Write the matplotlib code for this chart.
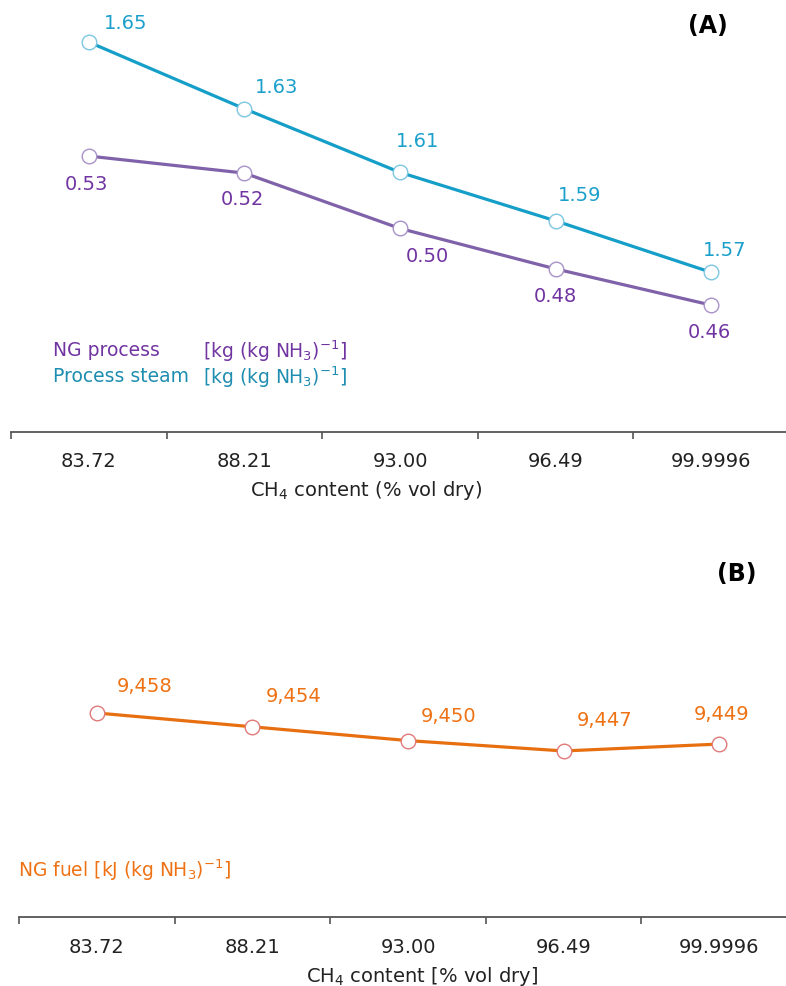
import matplotlib
matplotlib.use('Agg')
import matplotlib.pyplot as plt

plt.rcParams['font.family'] = 'DejaVu Sans'
plt.rcParams['mathtext.default'] = 'regular'

#%% data
ch4_labels = ['83.72', '88.21', '93.00', '96.49', '99.9996']
ng_process = [0.530, 0.522, 0.496, 0.477, 0.460]      # kg (kg NH3)^-1
process_steam = [1.649, 1.627, 1.606, 1.590, 1.573]   # kg (kg NH3)^-1
ng_fuel = [9458, 9454, 9450, 9447, 9449]              # kJ (kg NH3)^-1

c_steam, c_steam_txt, c_steam_mk = '#159fc8', '#1ba0cc', '#7cc6e2'
c_ng, c_ng_txt, c_ng_mk = '#7f62a9', '#7135a2', '#a892c8'
c_fuel, c_fuel_txt, c_fuel_mk = '#e86f10', '#ee7214', '#e07a7a'

W, H = 786, 986
fig = plt.figure(figsize=(W / 100, H / 100), dpi=100)


def px_axes(left, top, right, bottom):
    # axes placed in pixel coords of the picture
    return fig.add_axes([left / W, 1 - bottom / H, (right - left) / W, (bottom - top) / H])


def fig_text(x, y, s, **kw):
    fig.text(x / W, 1 - y / H, s, **kw)


def style_x(ax, pad):
    x = range(len(ch4_labels))
    ax.set_xlim(-0.5, 4.5)
    for s in ['top', 'right', 'left']:
        ax.spines[s].set_visible(False)
    ax.spines['bottom'].set_color('#555555')
    ax.spines['bottom'].set_linewidth(1.3)
    ax.set_yticks([])
    ax.set_xticks([-0.5, 0.5, 1.5, 2.5, 3.5])
    ax.set_xticklabels([])
    ax.tick_params(axis='x', which='major', length=5, width=1.2, color='#555555', direction='out')
    ax.set_xticks(list(x), ch4_labels, minor=True)
    ax.tick_params(axis='x', which='minor', length=0, pad=pad, labelsize=14, labelcolor='#222222')
    ax.patch.set_visible(False)


x = list(range(len(ch4_labels)))

#%% Panel A
axA = px_axes(11, 0, 789, 432)
style_x(axA, 14.5)
axA.set_ylim(0.4004, 0.6033)
axA.plot(x, ng_process, color=c_ng, lw=2.3, marker='o', ms=10.5,
         mfc='white', mec=c_ng_mk, mew=1.0, zorder=3)
ng_off = [(-2, -28), (-2, -26), (27, -28), (0, -28), (-2, -27)]
for xi, v, o in zip(x, ng_process, ng_off):
    axA.annotate(f'{v:.2f}', (xi, v), xytext=o, textcoords='offset pixels',
                 ha='center', va='center', fontsize=14, color=c_ng_txt)

axA2 = axA.twinx()
for s in ['top', 'right', 'left', 'bottom']:
    axA2.spines[s].set_visible(False)
axA2.set_yticks([])
axA2.set_ylim(1.5203, 1.6629)
axA2.plot(x, process_steam, color=c_steam, lw=2.3, marker='o', ms=10.5,
          mfc='white', mec=c_steam_mk, mew=1.0, zorder=3)
st_off = [(37, 19), (32, 21), (18, 31), (24, 25), (13, 22)]
for xi, v, o in zip(x, process_steam, st_off):
    axA2.annotate(f'{v:.2f}', (xi, v), xytext=o, textcoords='offset pixels',
                  ha='center', va='center', fontsize=14, color=c_steam_txt)

fig_text(708, 26, '(A)', ha='center', va='center', fontsize=17, fontweight='bold')
fig_text(53, 351, 'NG process', ha='left', va='center', fontsize=13.5, color=c_ng_txt)
fig_text(203, 351, '[kg (kg NH$_3$)$^{-1}$]', ha='left', va='center', fontsize=13.5, color=c_ng_txt)
fig_text(53, 377, 'Process steam', ha='left', va='center', fontsize=13.5, color='#1e8db0')
fig_text(203, 377, '[kg (kg NH$_3$)$^{-1}$]', ha='left', va='center', fontsize=13.5, color='#1e8db0')
fig_text(366, 491, 'CH$_4$ content (% vol dry)', ha='center', va='center', fontsize=14, color='#222222')

#%% Panel B
axB = px_axes(19, 500, 797, 917)
style_x(axB, 15)
axB.set_ylim(9398.9, 9519.7)
axB.plot(x, ng_fuel, color=c_fuel, lw=2.3, marker='o', ms=10.5,
         mfc='white', mec=c_fuel_mk, mew=1.0, zorder=3)
fu_off = [(48, 26), (41, 30), (41, 24), (41, 30), (2, 30)]
for xi, v, o in zip(x, ng_fuel, fu_off):
    axB.annotate(f'{v:,.0f}', (xi, v), xytext=o, textcoords='offset pixels',
                 ha='center', va='center', fontsize=14, color=c_fuel_txt)

fig_text(737, 574, '(B)', ha='center', va='center', fontsize=17, fontweight='bold')
fig_text(18, 870, 'NG fuel [kJ (kg NH$_3$)$^{-1}$]', ha='left', va='center', fontsize=13.5, color=c_fuel_txt)
fig_text(422, 976, 'CH$_4$ content [% vol dry]', ha='center', va='center', fontsize=14, color='#222222')

fig.savefig('out.png', dpi=100)
